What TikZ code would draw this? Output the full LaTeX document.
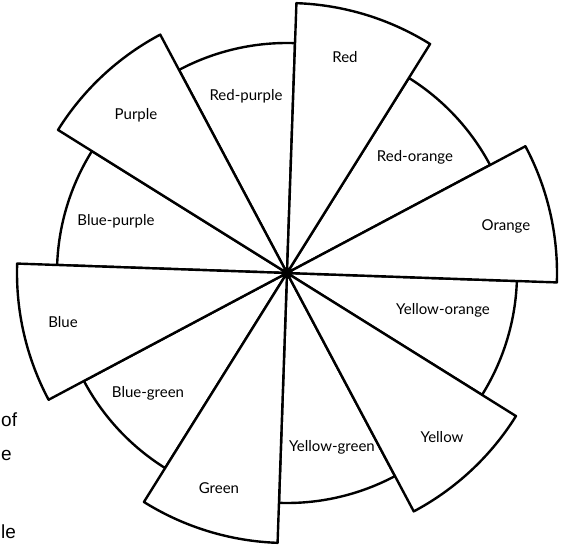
\documentclass[tikz,border=0pt]{standalone}
\usepackage{fontspec}
\setmainfont{Lato}
\newfontfamily\pagefont{Liberation Sans}
\usetikzlibrary{positioning}

\tikzset{
  sector/.style={draw=black, fill=white, line width=2.4pt, line join=round},
  hue/.style={font=\fontsize{15}{17}\selectfont, inner sep=1pt},
  margintext/.style={font=\pagefont\fontsize{19}{22}\selectfont, anchor=west, inner sep=0pt}
}

\begin{document}
\begin{tikzpicture}[x=1pt, y=1pt]
  \useasboundingbox (-287,-272) rectangle (285,273);
  \coordinate (c) at (0,0);

  % in-between hues, inside the circle
  \foreach \a in {28,88,148,208,268,328} {
    \draw[sector] (c) -- (\a:230) arc[start angle=\a, delta angle=30, radius=230] -- cycle;
  }
  % main hues, sticking out of the circle
  \foreach \a in {-2,58,118,178,238,298} {
    \draw[sector] (c) -- (\a:270) arc[start angle=\a, delta angle=30, radius=270] -- cycle;
  }
  \fill (c) circle (3);

  \node[hue] (red) at (58,216) {Red};
  \node[hue] (redpurple) at (-41,177) {Red-purple};
  \node[hue] (purple) at (-151,158) {Purple};
  \node[hue] (bluepurple) at (-171,52) {Blue-purple};
  \node[hue] (blue) at (-224,-49) {Blue};
  \node[hue] (bluegreen) at (-139,-120) {Blue-green};
  \node[hue] (green) at (-68,-215) {Green};
  \node[hue] (yellowgreen) at (45,-174) {Yellow-green};
  \node[hue] (yellow) at (155,-164) {Yellow};
  \node[hue] (yelloworange) at (156,-37) {Yellow-orange};
  \node[hue] (orange) at (219,47) {Orange};
  \node[hue] (redorange) at (128,116) {Red-orange};

  % word ends of the facing page
  \node[margintext] (of) at (-286,-147) {of};
  \node[margintext] (e) at (-286,-182) {e};
  \node[margintext] (le) at (-286,-259) {le};
\end{tikzpicture}
\end{document}
